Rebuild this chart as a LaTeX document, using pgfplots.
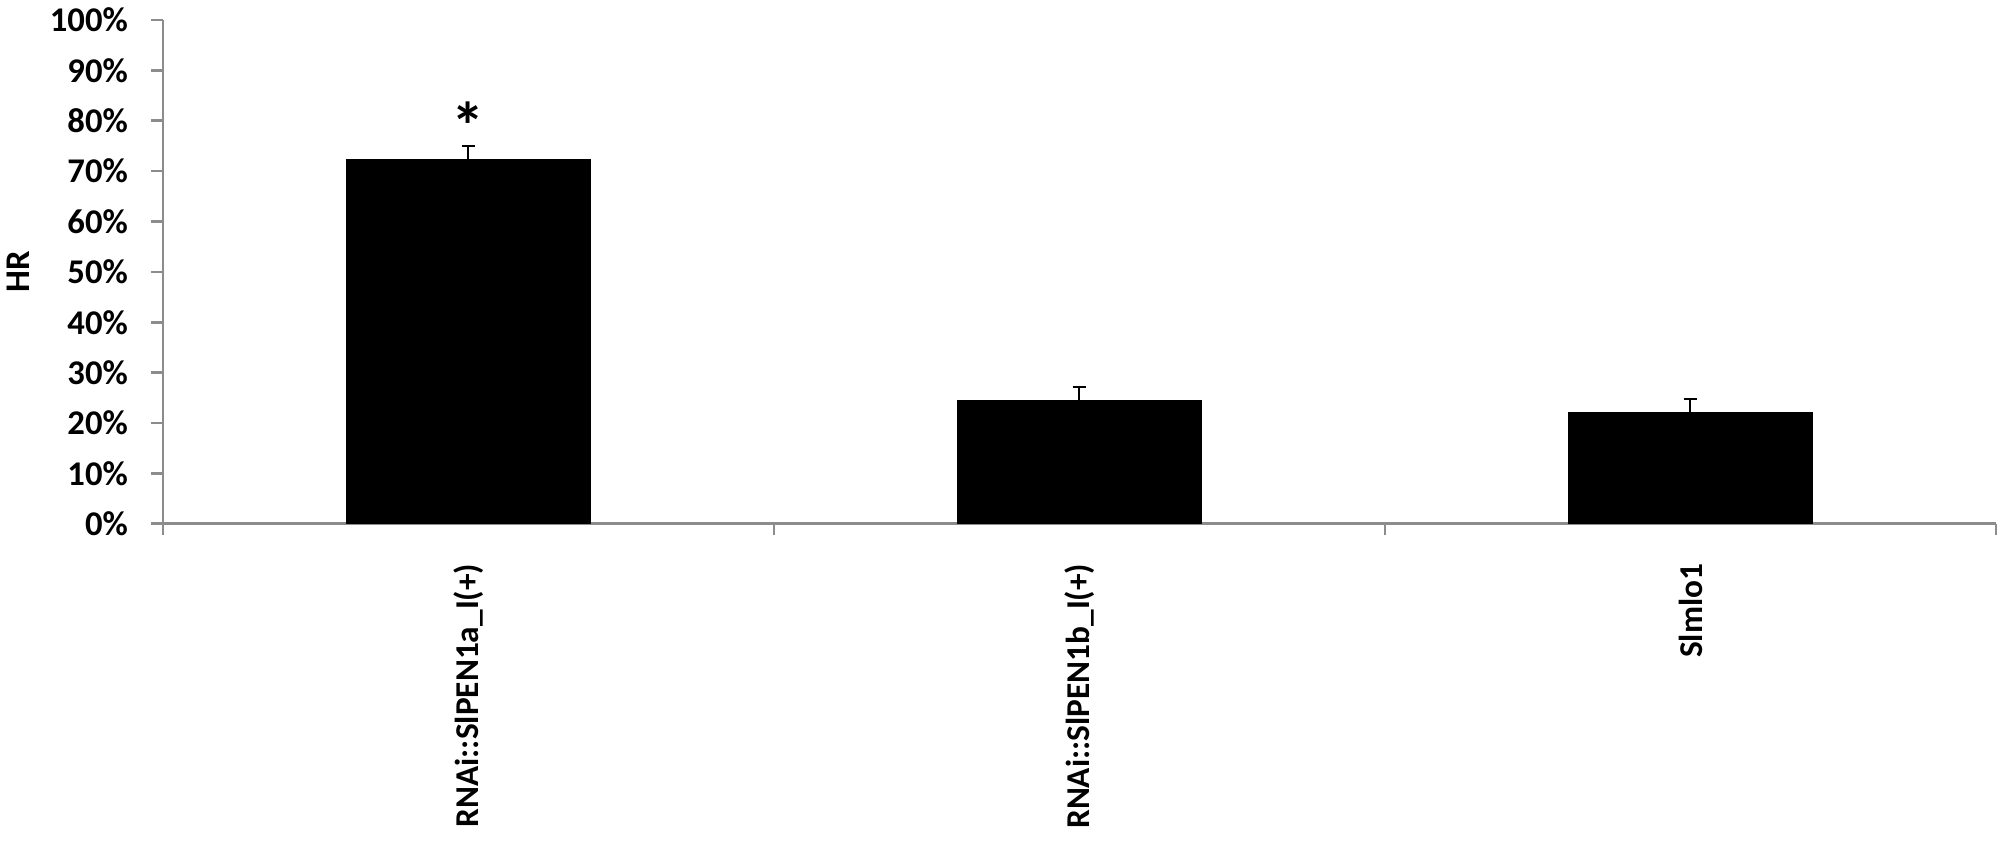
\documentclass[border=0pt]{standalone}
\usepackage{fontspec}
\setmainfont{Carlito}
\usepackage{pgfplots}
\pgfplotsset{compat=1.18}

\begin{document}
\begin{tikzpicture}
\begin{axis}[
    width=550.2pt,
    height=151.2pt,
    scale only axis,
    xmin=-0.5, xmax=2.5,
    ymin=0, ymax=100,
    axis x line=bottom,
    axis y line=left,
    axis line style={-, gray!90, line width=0.8pt},
    xtick={0,1,2},
    xticklabels={RNAi::SlPEN1a\_I(+), RNAi::SlPEN1b\_I(+), Slmlo1},
    major x tick style={draw=none},
    minor xtick={-0.5,0.5,1.5,2.5},
    minor x tick style={gray!90, line width=0.8pt},
    ytick={0,10,...,100},
    yticklabels={0\%,10\%,20\%,30\%,40\%,50\%,60\%,70\%,80\%,90\%,100\%},
    y tick style={gray!90, line width=0.8pt},
    tick align=outside,
    major tick length=3.5pt,
    minor tick length=3.5pt,
    xticklabel style={rotate=90, anchor=east, font=\fontsize{10}{12}\selectfont\bfseries, xshift=-5pt},
    yticklabel style={font=\fontsize{10.4}{12}\selectfont\bfseries, xshift=-3.5pt},
    ylabel={HR},
    ylabel style={font=\fontsize{10.4}{12}\selectfont\bfseries, yshift=-0.8pt},
    clip=false,
]
\addplot[ybar, bar width=0.4, fill=black, draw=black,
    error bars/.cd, y dir=plus, y explicit,
    error mark options={black, line width=0.6pt, mark size=2pt, rotate=90},
    error bar style={black, line width=0.6pt}]
    coordinates {
    (0,72.2) +- (0,2.7)
    (1,24.4) +- (0,2.7)
    (2,22.0) +- (0,2.8)
};
\node[font=\fontsize{20}{20}\selectfont\bfseries] at (axis cs:0,79.0) {*};
\end{axis}
\pgfresetboundingbox
\path[use as bounding box] ([xshift=-48.9pt,yshift=-95.1pt]current axis.south west)
    rectangle ([xshift=1.2pt,yshift=6pt]current axis.north east);
\end{tikzpicture}
\end{document}
